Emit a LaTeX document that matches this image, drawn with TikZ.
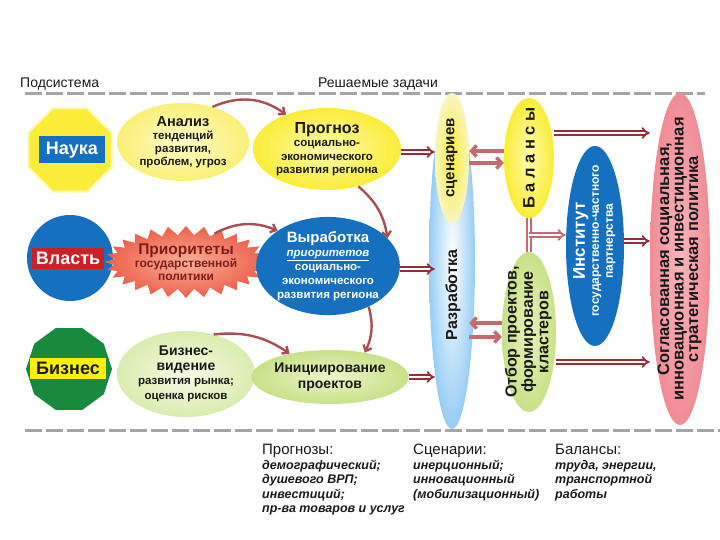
\documentclass[tikz,border=0pt]{standalone}
\usepackage{fontspec}
\setmainfont{Liberation Sans}
\usepackage{graphicx}
\usetikzlibrary{shapes.geometric,shapes.symbols,arrows.meta,calc}
\definecolor{arrc}{RGB}{170,78,84}
\definecolor{darr}{RGB}{150,45,55}
\definecolor{parc}{RGB}{200,105,110}
\definecolor{yel}{RGB}{250,236,55}
\definecolor{yell}{RGB}{255,250,200}
\definecolor{blu}{RGB}{22,112,192}
\definecolor{redl}{RGB}{205,32,36}
\definecolor{grn}{RGB}{24,138,62}
\definecolor{lgrn}{RGB}{200,225,135}
\definecolor{vlgrn}{RGB}{218,236,175}
\definecolor{pnk}{RGB}{240,140,148}
\definecolor{pnkl}{RGB}{248,182,186}
\definecolor{rblue}{RGB}{150,205,245}
\definecolor{burst}{RGB}{236,96,74}
\definecolor{burstl}{RGB}{250,175,150}
\definecolor{dashc}{RGB}{165,165,165}
\definecolor{txt}{RGB}{25,25,25}
\definecolor{ltag}{RGB}{250,240,0}
\definecolor{octb}{RGB}{255,248,170}
\definecolor{prtxt}{RGB}{125,30,30}
\newcommand{\fs}[2]{\fontsize{#1}{#2}\selectfont}
\newcommand{\vtext}[1]{\rotatebox{90}{\begin{tabular}{@{}c@{}}#1\end{tabular}}}
\begin{document}
\begin{tikzpicture}[x=1pt,y=-1pt,
  every node/.style={inner sep=0pt, text=txt},
  bub/.style={ellipse, inner sep=0pt, align=center, font=\bfseries},
  sarr/.style={draw=arrc, line width=2.4pt, -{Straight Barb[length=5pt,width=9pt]}},
  dbl/.style={draw=darr, double=white, double distance=2pt, line width=1.8pt, -{Implies[scale=1.5]}},
  parr/.style={draw=parc, line width=3.5pt, -{Straight Barb[length=5pt,width=11pt]}},
  tag/.style={rectangle, minimum height=22pt, font=\fs{18}{20}\bfseries},
  dashline/.style={draw=dashc, line width=3pt, dash pattern=on 17pt off 4pt}]
\useasboundingbox (0,0) rectangle (720,540);
% headers and dashed rules
\node[anchor=west, font=\fs{14}{16}] (hsub) at (20,84) {Подсистема};
\node[anchor=west, font=\fs{14}{16}] (htask) at (318,84) {Решаемые задачи};
\draw[dashline] (25,94) -- (705,94);
\draw[dashline] (25,430) -- (720,430);
% left column
\node[regular polygon, regular polygon sides=8, minimum size=90pt, fill=yel, draw=octb, line width=2pt] (nauka) at (70,150) {};
\node[tag, fill=blu, text=white, minimum width=66pt, minimum height=27pt] (naukaL) at (72,150) {Наука};
\node[circle, minimum size=86pt, fill=blu] (vlast) at (70,258) {};
\node[tag, fill=redl, text=white, minimum width=72pt, minimum height=21pt] (vlastL) at (68,258) {Власть};
\node[regular polygon, regular polygon sides=10, minimum size=86pt, fill=grn] (biz) at (69,369) {};
\node[tag, fill=ltag, minimum width=76pt, minimum height=21pt] (bizL) at (68,368) {Бизнес};
% second column
\node[bub, shade, inner color=yell, outer color={rgb,255:red,250;green,240;blue,120}, minimum width=132pt, minimum height=78pt, font=\fs{11.5}{13}\bfseries] (anal) at (183,142) {{\fs{14.5}{16}Анализ}\\тенденций\\развития,\\проблем, угроз};
\node[starburst, starburst points=28, starburst point height=9pt, random starburst=0, shade, inner color=burstl, outer color=burst, minimum width=125pt, minimum height=72pt, align=center, font=\fs{12}{13}\bfseries, text=prtxt] (prio) at (186,262) {{\fs{15.5}{17}Приоритеты}\\государственной\\политики};
\node[bub, shade, inner color={rgb,255:red,245;green,250;blue,228}, outer color=vlgrn, minimum width=138pt, minimum height=86pt, font=\fs{11.5}{14.5}\bfseries] (bvid) at (186,374) {{\fs{14}{16}Бизнес-}\\{\fs{14}{16}видение}\\развития рынка;\\оценка рисков};
% third column
\node[bub, shade, inner color={rgb,255:red,255;green,250;blue,170}, outer color=yel, minimum width=148pt, minimum height=82pt, font=\fs{11.5}{13.5}\bfseries] (prog) at (327,149) {{\fs{16}{18}Прогноз}\\социально-\\экономического\\развития региона};
\node[bub, fill=blu, text=white, minimum width=142pt, minimum height=92pt, font=\fs{11.5}{14}\bfseries] (vyr) at (328,266) {{\fs{15}{17}Выработка}\\{\itshape\underline{приоритетов}}\\социально-\\экономического\\развития региона};
\node[bub, shade, inner color={rgb,255:red,235;green,245;blue,200}, outer color=lgrn, minimum width=138pt, minimum height=54pt, font=\fs{14}{16}\bfseries] (init) at (330,377) {Инициирование\\проектов};
% scenarios
\node[ellipse, shade, inner color=white, outer color=rblue, minimum width=46pt, minimum height=336pt] (razr) at (452,261) {};
\node[ellipse, shade, inner color=yel, outer color={rgb,255:red,250;green,245;blue,190}, minimum width=34pt, minimum height=130pt] (scen) at (452,158) {};
\node[font=\fs{15}{17}\bfseries] (scenT) at (scen.center) {\rotatebox{90}{сценариев}};
\node[font=\fs{16}{18}\bfseries] (razrT) at (453,295) {\rotatebox{90}{Разработка}};
% balances, selection
\node[ellipse, shade, inner color={rgb,255:red,255;green,252;blue,170}, outer color=yel, minimum width=50pt, minimum height=120pt] (bal) at (529,158) {};
\node[font=\fs{16.5}{17}\bfseries] (balT) at (bal.center) {\rotatebox{90}{Б а л а н с ы}};
\node[ellipse, shade, inner color={rgb,255:red,228;green,242;blue,185}, outer color=lgrn, minimum width=54pt, minimum height=160pt] (otb) at (529,332) {};
\node[font=\fs{16}{15.5}\bfseries] (otbT) at (otb.center) {\vtext{Отбор проектов,\\формирование\\кластеров}};
\node[ellipse, fill=blu, minimum width=58pt, minimum height=200pt] (inst) at (595,246) {};
\node[text=white, font=\fs{12}{14}\bfseries] (instT) at ([yshift=5pt]inst.center) {\vtext{{\fs{17}{18}Институт}\\государственно-частного\\партнерства}};
\node[ellipse, shade, inner color=pnkl, outer color=pnk, minimum width=60pt, minimum height=332pt] (sogl) at (680,259) {};
\node[font=\fs{16.5}{14.5}\bfseries] (soglT) at (sogl.center) {\vtext{Согласованная социальная,\\инновационная и инвестиционная\\стратегическая политика}};
% curved arrows
\draw[sarr] (anal.50) to[bend left=30] (prog.140);
\draw[sarr] (prio.45) to[bend left=25] (vyr.145);
\draw[sarr] (bvid.55) to[bend left=20] (init.150);
\draw[sarr] (prog.-50) to[bend left=20] (vyr.25);
\draw[sarr] (vyr.-45) to[bend left=20] (init.35);
% double arrows into scenarios
\draw[dbl] ([yshift=-3pt]prog.east) -- ([yshift=-3pt]prog.east -| scen.west);
\draw[dbl] ([yshift=-3pt]vyr.east) -- ([yshift=-3pt]vyr.east -| scen.west);
\draw[dbl] (init.east) -- (init.east -| scen.west);
% scenario <-> balances / selection
\draw[parr] ([yshift=7pt]bal.west) -- ([yshift=7pt]bal.west -| scen.east);
\draw[parr] ([yshift=-5pt]bal.west -| scen.east) -- ([yshift=-5pt]bal.west);
\draw[parr] ([yshift=9pt]otb.west) -- ([yshift=9pt]otb.west -| scen.east);
\draw[parr] ([yshift=-5pt]otb.west -| scen.east) -- ([yshift=-5pt]otb.west);
% balances - selection link
\draw[draw=parc, double=white, double distance=2pt, line width=2pt] (bal.south) -- (otb.north);
\coordinate (bo) at ($(bal.south)!0.5!(otb.north)$);
\draw[dbl, draw=parc] (bo) -- (bo -| inst.west);
% into policy
\draw[dbl, -{Implies[scale=1.8]}] ([yshift=25pt]bal.east) -- ([yshift=25pt]bal.east -| sogl.west);
\draw[dbl] ([yshift=5pt]inst.east) -- ([yshift=5pt]inst.east -| sogl.west);
\draw[dbl, -{Implies[scale=1.8]}] ([yshift=-30pt]otb.east) -- ([yshift=-30pt]otb.east -| sogl.west);
% bottom notes
\node[anchor=north west, align=left, font=\fs{12.5}{14.5}\bfseries\itshape] (nprog) at (262,444) {{\fs{15}{16}\mdseries\upshape Прогнозы:}\\демографический;\\душевого ВРП;\\инвестиций;\\пр-ва товаров и услуг};
\node[anchor=north west, align=left, font=\fs{12.5}{14.5}\bfseries\itshape] (nscen) at (413,444) {{\fs{15}{16}\mdseries\upshape Сценарии:}\\инерционный;\\инновационный\\(мобилизационный)};
\node[anchor=north west, align=left, font=\fs{12.5}{14.5}\bfseries\itshape] (nbal) at (555,444) {{\fs{15}{16}\mdseries\upshape Балансы:}\\труда, энергии,\\транспортной\\работы};
\end{tikzpicture}
\end{document}
